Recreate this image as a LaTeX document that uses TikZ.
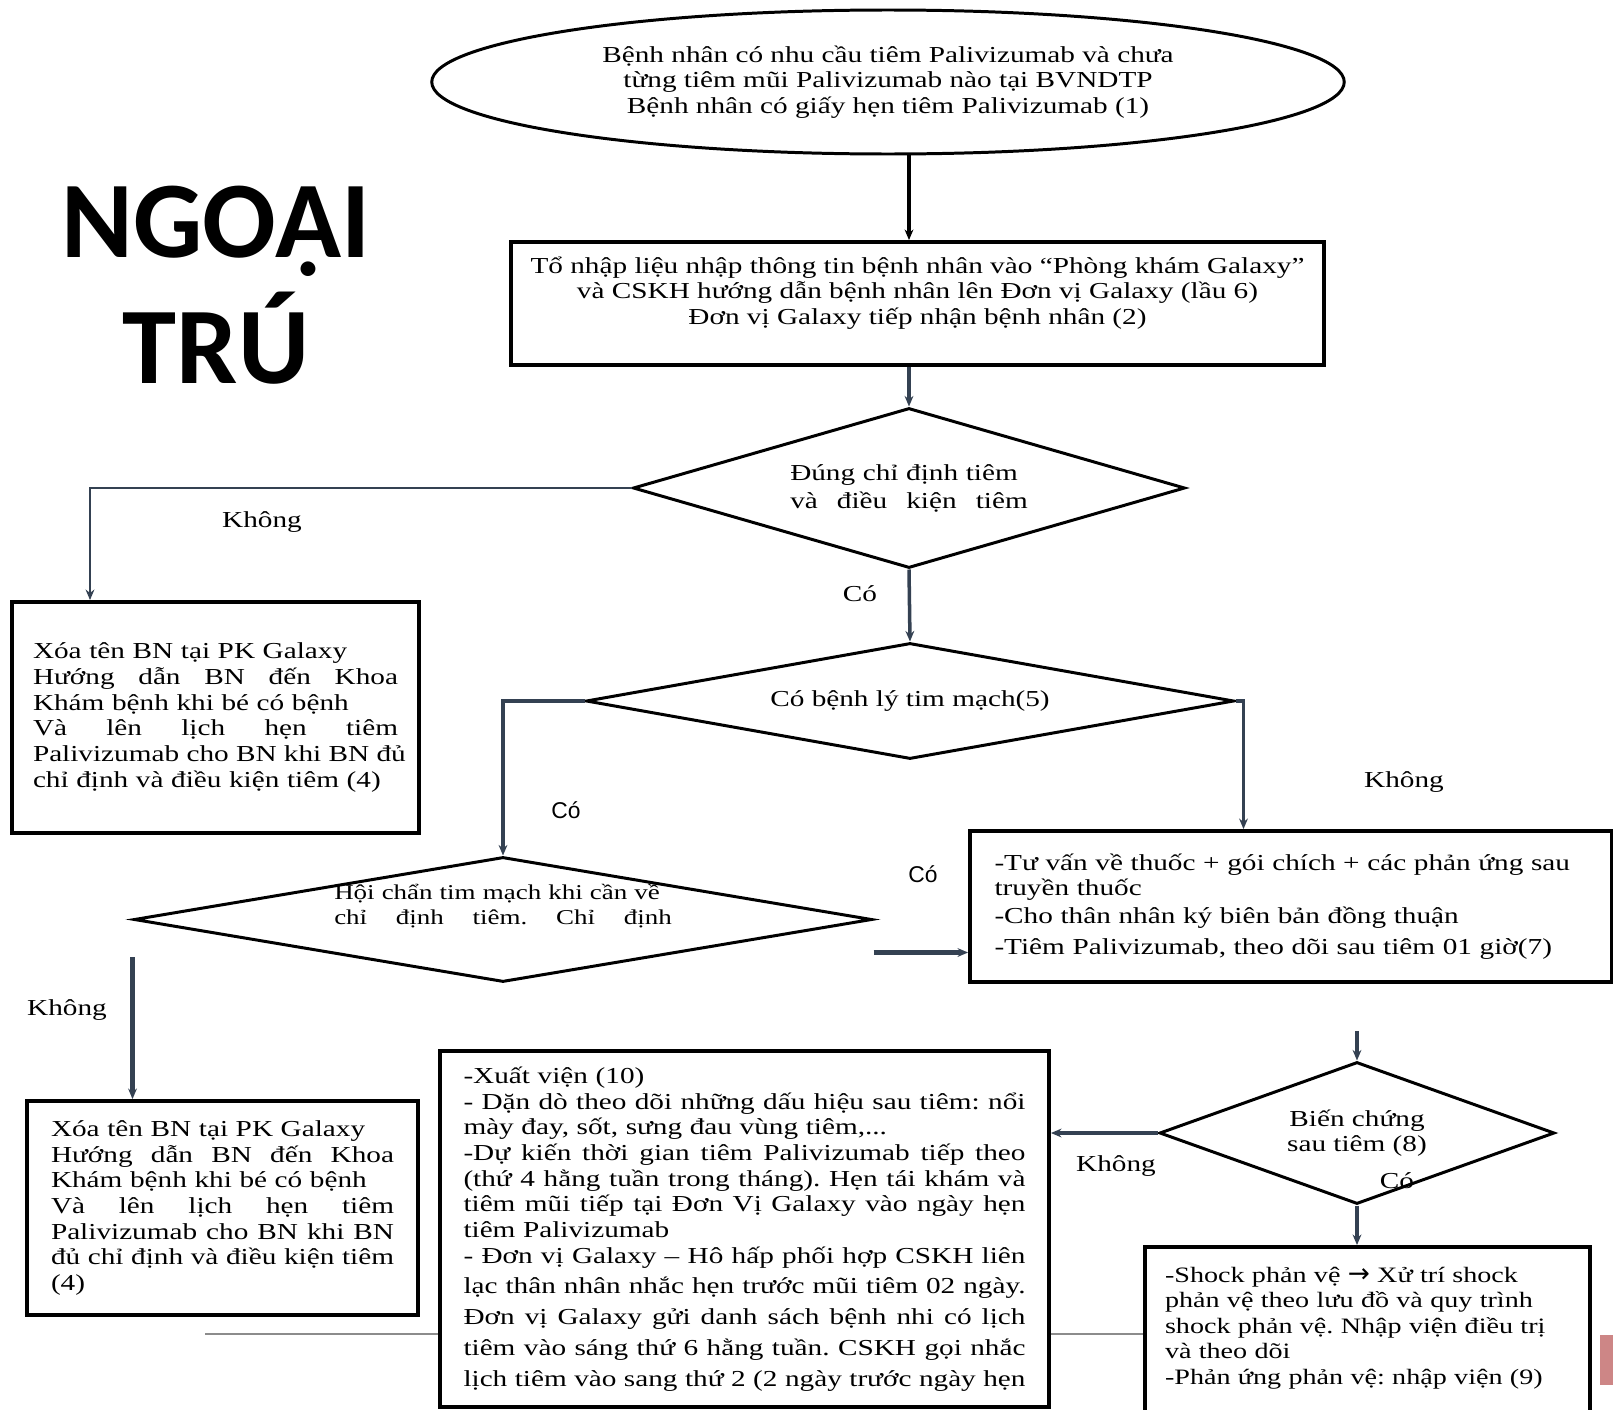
\documentclass[tikz,border=0pt]{standalone}
\usepackage{fontspec}
\setmainfont{Liberation Serif}[FakeStretch=1.28]
\newfontfamily\sanslabel{Liberation Sans}
\newfontfamily\symfont{DejaVu Sans}
\newfontfamily\titlefont{Carlito}
\usetikzlibrary{shapes.geometric, arrows.meta, calc}
\frenchspacing

\definecolor{linkc}{HTML}{344152}
\definecolor{footc}{HTML}{8C8C8C}
\definecolor{tabred}{HTML}{CD8686}

% one line stretched to the full text width
\newcommand{\jline}[1]{\makebox[\hsize][s]{\spaceskip=\fontdimen2\font plus 1fil\relax\xspaceskip=\spaceskip #1}}

\begin{document}
\begin{tikzpicture}[
            start_oval/.style={ellipse, draw=black, line width=1.7pt, fill=white,
            minimum width=18.25cm, minimum height=2.88cm, align=center, font=\fontsize{13}{14.6}\selectfont},
            step_box/.style={rectangle, draw=black, line width=2.2pt, fill=white,
            align=left, font=\fontsize{13}{14.6}\selectfont},
            decision/.style={diamond, draw=black, line width=1.7pt, fill=white, inner sep=0pt,
            align=center, font=\fontsize{13}{14.6}\selectfont},
            flow/.style={-{Stealth[length=6pt, width=5pt]}, line width=2pt, draw=linkc},
            flow_thin/.style={flow, line width=1.2pt},
            flow_bold/.style={flow, line width=2.6pt},
            answer/.style={font=\fontsize{13}{14.6}\selectfont},
            answer_sans/.style={font=\sanslabel\fontsize{13}{14.6}\selectfont},
            big_title/.style={font=\titlefont\bfseries\fontsize{62}{72}\selectfont, align=center}
        ]

            \useasboundingbox (0,0) rectangle (32.26,-28.2);
            \clip (0,0) rectangle (32.26,-28.2);

            % footer rule and side tab
            \draw[footc, line width=0.8pt] (4.1,-26.68) -- (23,-26.68);
            \fill[tabred] (32.0,-26.7) rectangle (32.26,-27.7);

            % Title
            \node[big_title] (title) at (4.32,-5.70) {NGOẠI\\TRÚ};

            % Main column
            \node[start_oval] (start) at (17.76,-1.64)
                {Bệnh nhân có nhu cầu tiêm Palivizumab và chưa\\từng tiêm mũi Palivizumab nào tại BVNDTP\\Bệnh nhân có giấy hẹn tiêm Palivizumab (1)};
            \node[step_box, align=center, minimum width=16.26cm, minimum height=2.46cm] (intake) at (18.35,-6.07)
                {Tổ nhập liệu nhập thông tin bệnh nhân vào “Phòng khám Galaxy”\\và CSKH hướng dẫn bệnh nhân lên Đơn vị Galaxy (lầu 6)\\Đơn vị Galaxy tiếp nhận bệnh nhân (2)\\\mbox{}};
            \node[decision, minimum width=11.04cm, minimum height=3.2cm, shape aspect=3.45,
                text width=4.75cm, align=left, font=\fontsize{13}{16}\selectfont] (indic) at (18.18,-9.76)
                {Đúng chỉ định tiêm\\\jline{và điều kiện tiêm}};
            \node[decision, minimum width=12.96cm, minimum height=2.32cm, shape aspect=5.6] (heart) at (18.20,-14.02)
                {Có bệnh lý tim mạch(5)};

            % Not eligible
            \node[step_box, minimum width=8.14cm, minimum height=4.62cm, text width=7.3cm] (drop1) at (4.31,-14.35)
                {Xóa tên BN tại PK Galaxy\\\jline{Hướng dẫn BN đến Khoa}\\Khám bệnh khi bé có bệnh\\\jline{Và lên lịch hẹn tiêm}\\\jline{Palivizumab cho BN khi BN đủ}\\chỉ định và điều kiện tiêm (4)};

            % Cardiac consult
            \node[decision, minimum width=14.76cm, minimum height=2.5cm, shape aspect=5.9] (consult) at (10.06,-18.39) {};
            \node[text width=6.75cm, align=left, font=\fontsize{12}{14.6}\selectfont] (consulttxt) at (10.06,-18.12)
                {Hội chẩn tim mạch khi cần về\\\jline{chỉ định tiêm. Chỉ định}};
            \node[step_box, minimum width=7.82cm, minimum height=4.28cm, text width=6.86cm] (drop2) at (4.45,-24.16)
                {Xóa tên BN tại PK Galaxy\\\jline{Hướng dẫn BN đến Khoa}\\Khám bệnh khi bé có bệnh\\\jline{Và lên lịch hẹn tiêm}\\\jline{Palivizumab cho BN khi BN}\\\jline{đủ chỉ định và điều kiện tiêm}\\(4)};

            % Injection and follow-up
            \node[step_box, minimum width=12.84cm, minimum height=3.02cm, text width=11.86cm] (inject) at (25.82,-18.13)
                {-Tư vấn về thuốc + gói chích + các phản ứng sau\\truyền thuốc\\[1pt]-Cho thân nhân ký biên bản đồng thuận\\[3pt]-Tiêm Palivizumab, theo dõi sau tiêm 01 giờ(7)};
            \node[decision, minimum width=7.9cm, minimum height=2.84cm, shape aspect=2.78] (react) at (27.14,-22.66)
                {Biến chứng\\sau tiêm (8)};
            \node[step_box, minimum width=12.18cm, minimum height=7.12cm, text width=11.24cm] (discharge) at (14.89,-24.58)
                {-Xuất viện (10)\\
                \jline{- Dặn dò theo dõi những dấu hiệu sau tiêm: nổi}\\
                mày đay, sốt, sưng đau vùng tiêm,...\\
                \jline{-Dự kiến thời gian tiêm Palivizumab tiếp theo}\\
                \jline{(thứ 4 hằng tuần trong tháng). Hẹn tái khám và}\\
                \jline{tiêm mũi tiếp tại Đơn Vị Galaxy vào ngày hẹn}\\
                tiêm Palivizumab\\
                \jline{- Đơn vị Galaxy – Hô hấp phối hợp CSKH liên}\\[2.9pt]
                \jline{lạc thân nhân nhắc hẹn trước mũi tiêm 02 ngày.}\\[2.9pt]
                \jline{Đơn vị Galaxy gửi danh sách bệnh nhi có lịch}\\[2.9pt]
                \jline{tiêm vào sáng thứ 6 hằng tuần. CSKH gọi nhắc}\\[2.9pt]
                \jline{lịch tiêm vào sang thứ 2 (2 ngày trước ngày hẹn}};
            \node[step_box, minimum width=8.9cm, minimum height=3.66cm, text width=8.1cm,
                font=\fontsize{12.5}{14.6}\selectfont] (shock) at (27.35,-26.77)
                {-Shock phản vệ {\symfont\fontsize{15}{14.6}\selectfont →} Xử trí shock\\phản vệ theo lưu đồ và quy trình\\shock phản vệ. Nhập viện điều trị\\và theo dõi\\-Phản ứng phản vệ: nhập viện (9)\\\mbox{}};

            % Answer labels
            \node[answer] (no1) at (5.24,-10.44) {Không};
            \node[answer] (yes1) at (17.2,-11.88) {Có};
            \node[answer_sans] (yes2) at (11.32,-16.2) {Có};
            \node[answer] (no2) at (28.08,-15.64) {Không};
            \node[answer] (no3) at (1.34,-20.2) {Không};
            \node[answer_sans] (yes3) at (18.46,-17.48) {Có};
            \node[answer] (no4) at (22.32,-23.32) {Không};
            \node[answer] (yes4) at (27.94,-23.62) {Có};

            % Connectors
            \draw[flow, draw=black, line width=2.2pt] (start.south -| indic.north) -- (indic.north |- intake.north);
            \draw[flow] (intake.south -| indic.north) -- (indic.north);
            \draw[flow_thin] (indic.west) -| ([xshift=-2.51cm]drop1.north);
            \draw[flow] (indic.south) -- (heart.north);
            \draw[flow] (heart.west) -| (consult.north);
            \coordinate (k2) at ([xshift=0.16cm]heart.east);
            \draw[flow] (heart.east) -- (k2) -- (k2 |- inject.north);
            \coordinate (k3) at ([yshift=-0.75cm]consult.west);
            \draw[flow_bold] (k3) -- (k3 |- drop2.north);
            \coordinate (k4) at ([yshift=-0.92cm]inject.west);
            \draw[flow_bold] (consult.east |- k4) -- (k4);
            \coordinate (k5) at (react.north |- inject.south);
            \draw[flow] ([yshift=-0.94cm]k5) -- (react.north);
            \draw[flow_bold] (react.west) -- (react.west -| discharge.east);
            \draw[flow] (react.south) -- (react.south |- shock.north);

        \end{tikzpicture}
\end{document}
